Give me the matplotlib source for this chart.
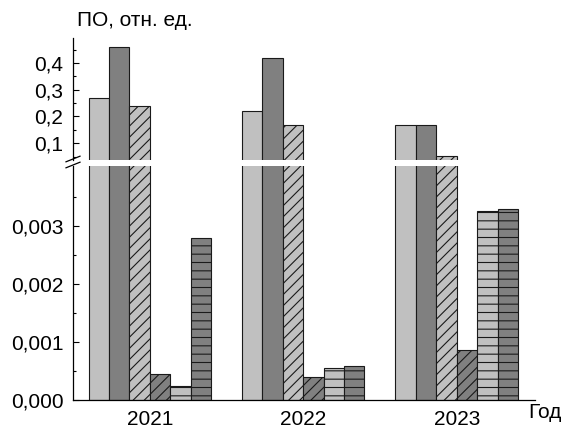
import matplotlib.pyplot as plt
from matplotlib.lines import Line2D
from matplotlib.ticker import MultipleLocator, FixedLocator, FuncFormatter
import numpy as np

plt.rcParams['font.family'] = ['Liberation Sans', 'DejaVu Sans']
plt.rcParams['font.size'] = 15
plt.rcParams['hatch.linewidth'] = 0.8

years = ['2021', '2022', '2023']
s1 = [0.27, 0.22, 0.17]
s2 = [0.46, 0.42, 0.17]
s3 = [0.24, 0.17, 0.052]
s4 = [0.00045, 0.00040, 0.00086]
s5 = [0.00024, 0.00056, 0.00327]
s6 = [0.0028, 0.00059, 0.0033]

series = [s1, s2, s3, s4, s5, s6]
fills = ['#c0c0c0', '#808080', '#c0c0c0', '#808080', '#c0c0c0', '#808080']
hatches = [None, None, '///', '///', '--', '--']

W, H = 562, 430
fig = plt.figure(figsize=(W / 100, H / 100), dpi=100)

def px(x0, y0, x1, y1):
    # pixel box (top-left origin) -> figure fractions
    return [x0 / W, 1 - y1 / H, (x1 - x0) / W, (y1 - y0) / H]

ax_hi = fig.add_axes(px(73, 38.3, 535, 160))
ax_lo = fig.add_axes(px(73, 166, 535, 400))

x = np.arange(len(years))
w = 0.133
for ax in (ax_hi, ax_lo):
    for i, (vals, fc, h) in enumerate(zip(series, fills, hatches)):
        ax.bar(x + (i - 2.5) * w, vals, w, color=fc, edgecolor='#1a1a1a',
               linewidth=0.8, hatch=h)
    ax.set_xlim(-0.5, 2.51)
    for s in ('top', 'right'):
        ax.spines[s].set_visible(False)
    ax.spines['left'].set_linewidth(0.9)
    ax.tick_params(axis='y', which='major', direction='in', length=4.5, width=0.8, pad=7)
    ax.tick_params(axis='y', which='minor', direction='in', length=2.3, width=0.8)

ax_hi.set_ylim(0.037, 0.493)
ax_hi.spines['bottom'].set_visible(False)
ax_hi.set_xticks([])
ax_hi.yaxis.set_major_locator(FixedLocator([0.1, 0.2, 0.3, 0.4]))
ax_hi.yaxis.set_minor_locator(MultipleLocator(0.05))
ax_hi.yaxis.set_major_formatter(FuncFormatter(lambda v, p: f'{v:.1f}'.replace('.', ',')))

ax_lo.set_ylim(0, 0.00404)
ax_lo.spines['bottom'].set_linewidth(0.9)
ax_lo.yaxis.set_major_locator(FixedLocator([0, 0.001, 0.002, 0.003]))
ax_lo.yaxis.set_minor_locator(FixedLocator([0.0005, 0.0015, 0.0025, 0.0035]))
ax_lo.yaxis.set_major_formatter(FuncFormatter(lambda v, p: f'{v:.3f}'.replace('.', ',')))
ax_lo.set_xticks(x)
ax_lo.set_xticklabels(years)
ax_lo.tick_params(axis='x', length=0, pad=7)

# axis break marks
for yc in (159, 165):
    fig.add_artist(Line2D([66 / W, 80 / W], [1 - (yc + 2.8) / H, 1 - (yc - 2.8) / H],
                          color='black', lw=0.9))

fig.text(135 / W, 1 - 21 / H, 'ПО, отн. ед.', ha='center', va='center')
fig.text(545 / W, 1 - 413 / H, 'Год', ha='center', va='center')

fig.savefig('out.png', dpi=100)
